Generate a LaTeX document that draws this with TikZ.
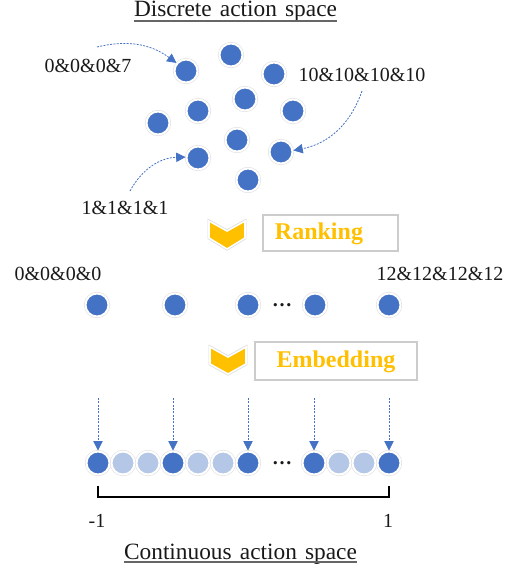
\documentclass[tikz,border=0pt]{standalone}
\usepackage{fontspec}
\setmainfont{Liberation Serif}
\usetikzlibrary{arrows.meta,calc}
\definecolor{blueC}{HTML}{4472C4}
\definecolor{lightC}{HTML}{B4C7E7}
\definecolor{goldC}{HTML}{FFC000}
\begin{document}
\begin{tikzpicture}[x=0.75pt,y=-0.75pt,
  dk/.style={circle,minimum size=17.25pt,inner sep=0pt,fill=blueC,draw=white,line width=1.5pt,
    preaction={draw=gray!25,line width=2.4pt}},
  lt/.style={dk,fill=lightC},
  lab/.style={font=\fontsize{15}{18}\selectfont,inner sep=0pt,text=black!90},
  ttl/.style={font=\fontsize{17.5}{20}\selectfont,inner sep=0pt,anchor=base,text=black!90},
  ul/.style={black!60,line width=1.1pt},
  conn/.style={blueC,line width=0.6pt,dash pattern=on 1.5pt off 1pt,
    -{Triangle[length=7pt,width=7pt]}},
  stepbox/.style={draw=gray!40,fill=white,line width=0.8pt,inner sep=0pt},
  steptext/.style={font=\fontsize{18}{21}\selectfont\bfseries,text=goldC,inner sep=0pt},
  chev/.style={fill=goldC,draw=white,line width=1.2pt,line join=miter,
    preaction={draw=gray!30,line width=2.2pt}},
  brk/.style={black,line width=2.2pt,line join=miter}
]
\useasboundingbox (0,0) rectangle (517,567);

% ---------- titles ----------
\node[ttl] (title) at (235.5,17) {Discrete\hspace{0.35em}action\hspace{0.35em}space};
\draw[ul] ($(title.base west)+(0,3.8)$) -- ($(title.base east)+(0,3.8)$);

\node[ttl] (ctitle) at (240.5,559) {Continuous\hspace{0.35em}action\hspace{0.35em}space};
\draw[ul] ($(ctitle.base west)+(0,3)$) -- ($(ctitle.base east)+(0,3)$);

% ---------- discrete cluster ----------
\node[dk] (d1)  at (186,71)  {};
\node[dk] (d2)  at (231,55)  {};
\node[dk] (d3)  at (274,74)  {};
\node[dk] (d4)  at (245,99)  {};
\node[dk] (d5)  at (198,111) {};
\node[dk] (d6)  at (293,111) {};
\node[dk] (d7)  at (158,123) {};
\node[dk] (d8)  at (237,140) {};
\node[dk] (d9)  at (281,152) {};
\node[dk] (d10) at (198,158) {};
\node[dk] (d11) at (248,180) {};

\node[lab] (l7)  at (88,66)   {0\&0\&0\&7};
\node[lab] (l10) at (362,75)  {10\&10\&10\&10};
\node[lab] (l1)  at (125,208) {1\&1\&1\&1};

\coordinate (a7)  at (97,47);
\coordinate (a10) at (362,91);
\coordinate (a1)  at (130,191);
\draw[conn] (a7)  to[bend left=25] (d1);
\draw[conn] (a10) to[bend left=30] (d9);
\draw[conn] (a1)  to[bend left=30] (d10);

% ---------- ranking ----------
\draw[chev] (209,221) -- (227,231) -- (245,221) -- (245,238) -- (227,249) -- (209,238) -- cycle;
\node[stepbox,minimum width=101.25pt,minimum height=27pt] (rank) at (330.5,233) {};
\node[steptext] (rankt) at (319,234) {Ranking};

% ---------- ranked row ----------
\node[dk] (r1) at (97,305)  {};
\node[dk] (r2) at (175,305) {};
\node[dk] (r3) at (248,305) {};
\node[dk] (r4) at (315,305) {};
\node[dk] (r5) at (389,305) {};
\node[lab,font=\fontsize{15}{18}\selectfont\bfseries] (rdots) at (282,305) {…};
\node[lab] (l0)  at (58,274)  {0\&0\&0\&0};
\node[lab] (l12) at (440,274) {12\&12\&12\&12};

% ---------- embedding ----------
\draw[chev] (210,347) -- (228,357) -- (246,347) -- (246,364) -- (228,374) -- (210,364) -- cycle;
\node[stepbox,minimum width=121.5pt,minimum height=28.5pt] (emb) at (336,361) {};
\node[steptext] (embt) at (336,362) {Embedding};

% ---------- continuous row ----------
\node[dk] (b1)  at (98,463)  {};
\node[lt] (b2)  at (123,463) {};
\node[lt] (b3)  at (148,463) {};
\node[dk] (b4)  at (173,463) {};
\node[lt] (b5)  at (198,463) {};
\node[lt] (b6)  at (223,463) {};
\node[dk] (b7)  at (248,463) {};
\node[lab,font=\fontsize{15}{18}\selectfont\bfseries] (bdots) at (282,463) {…};
\node[dk] (b8)  at (314,463) {};
\node[lt] (b9)  at (339,463) {};
\node[lt] (b10) at (364,463) {};
\node[dk] (b11) at (389,463) {};

\foreach \n/\x in {1/98,4/173,7/248,8/314,11/389}{
  \coordinate (t\n) at (\x,398);
  \draw[conn] (t\n) -- (b\n);
}

% ---------- bracket ----------
\coordinate (k1) at (98,486);
\coordinate (k2) at (98,497);
\coordinate (k3) at (389,497);
\coordinate (k4) at (389,486);
\draw[brk] (k1) -- (k2) -- (k3) -- (k4);

\node[lab] (m1) at (97,521)  {-1};
\node[lab] (p1) at (388,521) {1};
\end{tikzpicture}
\end{document}
